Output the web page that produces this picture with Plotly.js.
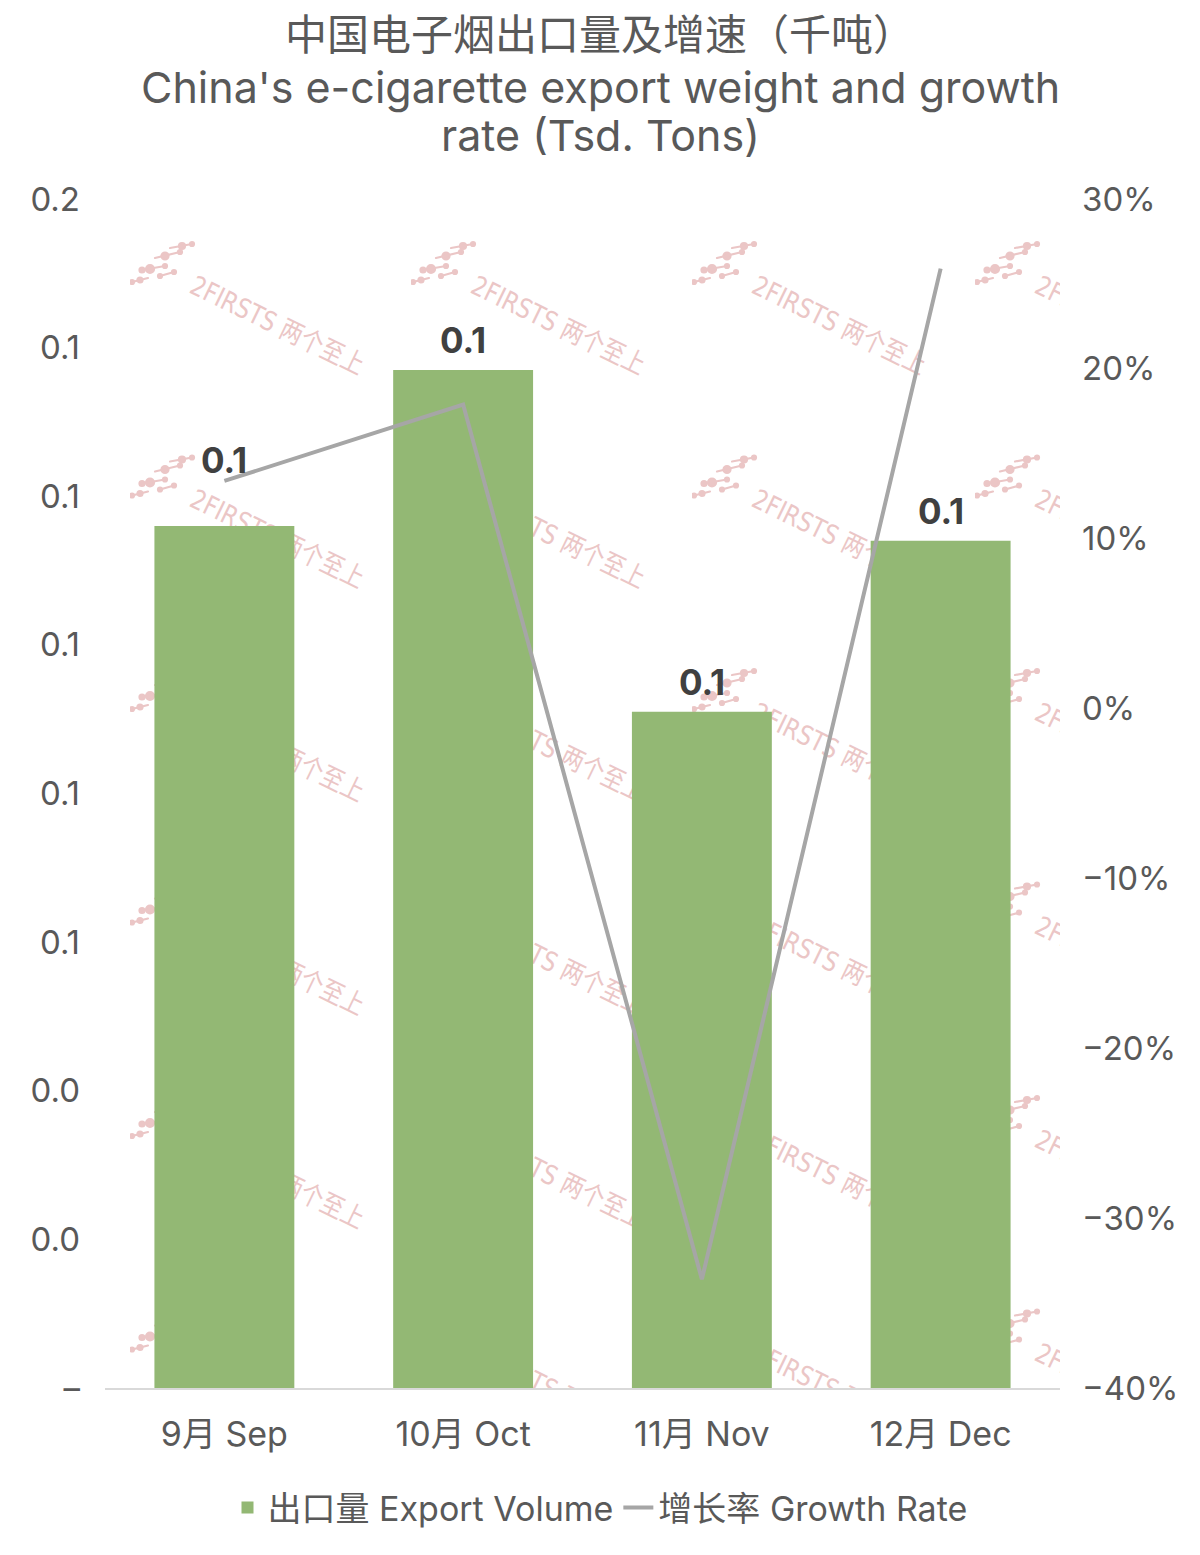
<!DOCTYPE html>
<html>
<head>
<meta charset="utf-8">
<script src="https://cdn.plot.ly/plotly-3.0.1.min.js"></script>
<style>html,body{margin:0;padding:0;background:#fff;}#chart{width:1200px;height:1555px;}</style>
</head>
<body>
<div id="chart"></div>
<script>
// ---- data ----
const categories = ['9月 Sep', '10月 Oct', '11月 Nov', '12月 Dec'];
const exportVolume = [0.116, 0.137, 0.091, 0.114];
const growthRate = [0.134, 0.179, -0.336, 0.259];
const leftTickVals = [0, 0.02, 0.04, 0.06, 0.08, 0.10, 0.12, 0.14, 0.16];
const leftTickText = ['–', '0.0', '0.0', '0.1', '0.1', '0.1', '0.1', '0.1', '0.2'];
const seriesNames = ['出口量 Export Volume', '增长率 Growth Rate'];
const titleLines = ['中国电子烟出口量及增速（千吨）', 'China\'s e-cigarette export weight and growth', 'rate (Tsd. Tons)'];

// ---- style ----
const FONT = 'Inter, Noto Sans CJK SC, sans-serif';
const TXT = '#595959';
const W = 1200, H = 1555;
const M = {l: 105, r: 140, t: 199, b: 167};
const plotW = W - M.l - M.r, plotH = H - M.t - M.b;
const yMax = 0.16;
const labelShift = [66, 30, 30, 30];
const titleY = [35, 87, 135];
const titleSize = [42, 43, 43];

// watermark tile (svg)
function wmSvg() {
  const c = '#EBC6C6';
  const svg = `<svg xmlns="http://www.w3.org/2000/svg" width="240" height="150" viewBox="0 0 240 150">
  <g stroke="${c}" stroke-width="2.2" fill="${c}" stroke-linecap="round">
    <line x1="2" y1="42" x2="18" y2="38"/><circle cx="2" cy="42" r="2"/><circle cx="10" cy="40" r="2.5"/>
    <line x1="12" y1="30" x2="35" y2="26"/><circle cx="12" cy="30" r="2.5"/><circle cx="20" cy="29" r="4"/><circle cx="35" cy="26" r="2"/>
    <line x1="25" y1="18" x2="50" y2="12"/><circle cx="35" cy="16" r="3.5"/><circle cx="50" cy="12" r="2"/>
    <line x1="40" y1="8" x2="62" y2="4"/><circle cx="52" cy="6" r="3"/><circle cx="62" cy="4" r="2"/>
    <line x1="30" y1="36" x2="44" y2="32"/><circle cx="30" cy="36" r="2"/><circle cx="44" cy="32" r="2"/>
  </g>
  <text x="0" y="0" transform="translate(58,52) rotate(26)" fill="${c}" font-family="DejaVu Sans, Noto Sans CJK SC" font-size="27" textLength="190" lengthAdjust="spacingAndGlyphs">2FIRSTS 两个至上</text>
</svg>`;
  return 'data:image/svg+xml;charset=utf-8,' + encodeURIComponent(svg);
}
const wmSrc = wmSvg();
const pxToX = px => (px - M.l) / (plotW / categories.length) - 0.5;
const pxToY = py => (M.t + plotH - py) / plotH * yMax;
const images = [];
[130, 411, 692, 975].forEach(px => {
  for (let r = 0; r < 6; r++) {
    const py = 240 + r * 213.5;
    images.push({
      source: wmSrc, xref: 'x', yref: 'y', x: pxToX(px), y: pxToY(py),
      sizex: 240 / (plotW / categories.length), sizey: 150 / plotH * yMax,
      sizing: 'stretch', xanchor: 'left', yanchor: 'top', layer: 'below'
    });
  }
});

const bar = {
  type: 'bar', x: categories, y: exportVolume, name: seriesNames[0],
  marker: {color: '#93B874'}, yaxis: 'y', hoverinfo: 'skip'
};
const line = {
  type: 'scatter', mode: 'lines', x: categories, y: growthRate, name: seriesNames[1],
  line: {color: '#A6A6A6', width: 4}, yaxis: 'y2', hoverinfo: 'skip'
};

const annotations = categories.map((c, i) => ({
  x: c, y: exportVolume[i], xref: 'x', yref: 'y', text: '<b>' + exportVolume[i].toFixed(1) + '</b>',
  showarrow: false, yanchor: 'middle', yshift: labelShift[i],
  font: {family: FONT, size: 35, color: '#404040'}
}));
const centerX = 0.5 + (W / 2 - (M.l + plotW / 2)) / plotW;
titleLines.forEach((t, i) => annotations.push({
  text: t, xref: 'paper', yref: 'paper', x: centerX,
  y: (H - M.b - titleY[i]) / plotH, xanchor: 'center', yanchor: 'middle', showarrow: false,
  font: {family: FONT, size: titleSize[i], color: TXT}
}));

const layout = {
  width: W, height: H,
  margin: M,
  paper_bgcolor: '#ffffff', plot_bgcolor: 'rgba(0,0,0,0)',
  font: {family: FONT, color: TXT},
  bargap: 0.414,
  showlegend: true,
  legend: {
    orientation: 'h', x: centerX, xanchor: 'center',
    y: -(1508 - 1388) / plotH, yanchor: 'middle',
    font: {family: FONT, size: 34, color: TXT}, itemwidth: 30, tracegroupgap: 0
  },
  xaxis: {
    type: 'category', range: [-0.5, 3.5], showgrid: false, zeroline: false,
    showline: true, linecolor: '#D9D9D9', linewidth: 1.5, ticks: '',
    tickfont: {family: FONT, size: 34, color: TXT}, ticklabelstandoff: 16, fixedrange: true
  },
  yaxis: {
    range: [0, yMax], tickvals: leftTickVals, ticktext: leftTickText, showgrid: false,
    zeroline: false, showline: false, ticks: '', tickfont: {family: FONT, size: 33, color: TXT},
    ticklabelstandoff: 24
  },
  yaxis2: {
    overlaying: 'y', side: 'right', range: [-0.4, 0.3], dtick: 0.1, tick0: 0, tickformat: '.0%',
    showgrid: false, zeroline: false, showline: false, ticks: '',
    tickfont: {family: FONT, size: 33, color: TXT}, ticklabelstandoff: 21
  },
  images: images,
  annotations: annotations
};

Plotly.newPlot('chart', [bar, line], layout, {displayModeBar: false, staticPlot: true});
</script>
</body>
</html>
